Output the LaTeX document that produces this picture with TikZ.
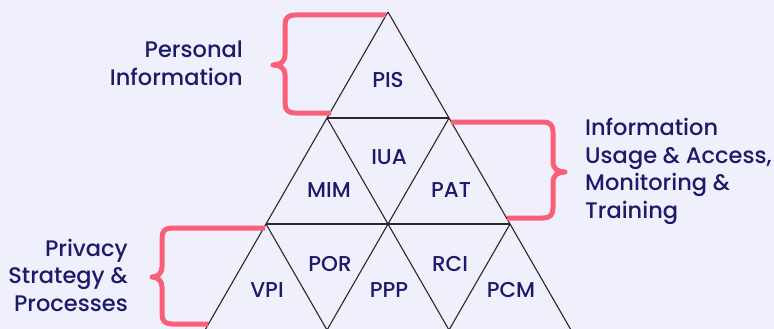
\documentclass[tikz,border=0pt]{standalone}
\usepackage{fontspec}
\setmainfont{Poppins Medium}
\definecolor{bg}{RGB}{240,240,252}
\definecolor{ink}{RGB}{27,27,105}
\definecolor{brc}{RGB}{249,96,120}
\definecolor{edgec}{RGB}{40,40,40}
\begin{document}
\begin{tikzpicture}[x=1pt,y=-1pt,
  tri/.style={draw=edgec, line width=1.1pt},
  bracestyle/.style={draw=brc, line width=5pt, line join=round},
  lbl/.style={text=ink, font=\fontsize{21.5}{26}\selectfont, inner sep=0pt},
  side/.style={text=ink, font=\fontsize{22.5}{27.5}\selectfont, inner sep=0pt}]
\fill[bg] (0,0) rectangle (774,329);
\useasboundingbox (0,0) rectangle (774,329);
\clip (0,0) rectangle (774,329);
% vertices
\coordinate (A) at (388,12);
\coordinate (B1) at (327,118);
\coordinate (B2) at (449,118);
\coordinate (C1) at (266,224);
\coordinate (C2) at (388,224);
\coordinate (C3) at (510,224);
\coordinate (D1) at (205,330);
\coordinate (D2) at (327,330);
\coordinate (D3) at (449,330);
\coordinate (D4) at (571,330);
% grid
\draw[tri] (A) -- (D1);
\draw[tri] (A) -- (D4);
\draw[tri] (B1) -- (B2);
\draw[tri] (C1) -- (C3);
\draw[tri] (B1) -- (D3);
\draw[tri] (B2) -- (D2);
\draw[tri] (C1) -- (D2);
\draw[tri] (C3) -- (D3);
% braces
\draw[bracestyle] (386,15) -- (295,15) .. controls (288,15) and (285,18) .. (285,25)
  -- (285,55) .. controls (285,62) and (280,65) .. (273,65)
  .. controls (280,65) and (285,68) .. (285,75) -- (285,103)
  .. controls (285,110) and (288,113) .. (295,113) -- (331,113);
\draw[bracestyle] (451,122) -- (543,122) .. controls (550,122) and (553,125) .. (553,132)
  -- (553,162) .. controls (553,169) and (558,172) .. (565,172)
  .. controls (558,172) and (553,175) .. (553,182) -- (553,208)
  .. controls (553,215) and (550,218) .. (543,218) -- (507,218);
\draw[bracestyle] (265,228) -- (172,228) .. controls (165,228) and (162,231) .. (162,238)
  -- (162,267) .. controls (162,274) and (157,277) .. (152,277)
  .. controls (157,277) and (162,280) .. (162,287) -- (162,314)
  .. controls (162,321) and (165,324) .. (172,324) -- (208,324);
% labels
\node[lbl] (pis) at (388,80) {PIS};
\node[lbl] (iua) at (389,157) {IUA};
\node[lbl] (mim) at (329,190) {MIM};
\node[lbl] (pat) at (451,190) {PAT};
\node[lbl] (por) at (330,264) {POR};
\node[lbl] (rci) at (450,264) {RCI};
\node[lbl] (vpi) at (267,290) {VPI};
\node[lbl] (ppp) at (389,290) {PPP};
\node[lbl] (pcm) at (511,290) {PCM};
% side texts (base anchor = last line baseline)
\node[side, align=right, anchor=base east] (t1) at (243,85) {Personal\\Information};
\node[side, align=left, anchor=base west] (t2) at (585,218) {Information\\Usage \& Access,\\Monitoring \&\\Training};
\node[side, align=right, anchor=base east] (t3) at (128,311) {Privacy\\Strategy \&\\Processes};
\end{tikzpicture}
\end{document}
